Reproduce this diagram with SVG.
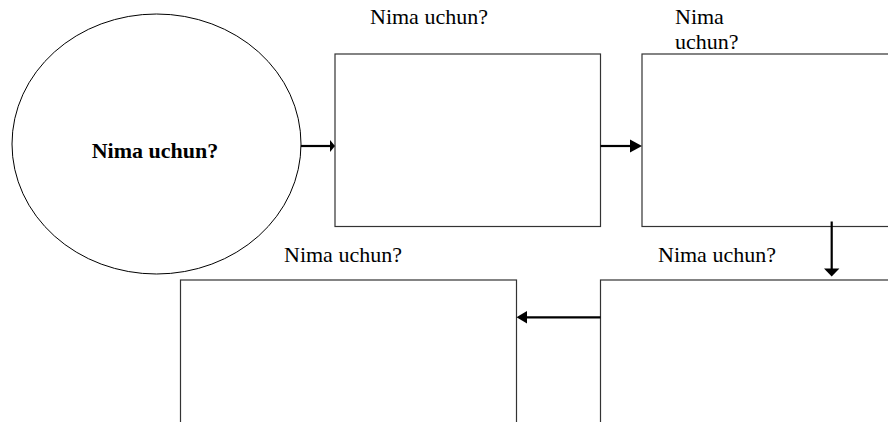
<svg xmlns="http://www.w3.org/2000/svg" width="888" height="422" viewBox="0 0 888 422">
<style>
.box{fill:#fff;stroke:#333;stroke-width:1.2}
text{font-family:'Liberation Serif','Tinos','DejaVu Serif','Times New Roman',serif;font-size:22px;fill:#000}
.bold{font-weight:bold;font-size:22px}
.conn{stroke:#000;stroke-width:2.2;fill:none}
.head{fill:#000}
</style>
<rect width="888" height="422" fill="#fff"/>
<g id="node-ellipse">
<ellipse cx="156.5" cy="144" rx="144.5" ry="130" fill="#fff" stroke="#000" stroke-width="1"/>
<text class="bold" x="155" y="158" text-anchor="middle" font-family="Liberation Serif, serif">Nima uchun?</text>
</g>
<g id="node-box1">
<rect class="box" x="335" y="54" width="265.5" height="172.5"/>
<text x="370" y="24" font-family="Liberation Serif, serif">Nima uchun?</text>
</g>
<g id="node-box2">
<rect class="box" x="642" y="54" width="260" height="172.5"/>
<text x="675" y="24" font-family="Liberation Serif, serif">Nima</text>
<text x="675" y="49" font-family="Liberation Serif, serif">uchun?</text>
</g>
<g id="node-box3">
<rect class="box" x="180.5" y="280" width="336" height="160"/>
<text x="284" y="262" font-family="Liberation Serif, serif">Nima uchun?</text>
</g>
<g id="node-box4">
<rect class="box" x="600.5" y="280" width="300" height="160"/>
<text x="658" y="262" font-family="Liberation Serif, serif">Nima uchun?</text>
</g>
<g id="connectors">
<line class="conn" x1="301" y1="146" x2="330" y2="146"/>
<polygon class="head" points="335,146 330,140 330,152"/>
<line class="conn" x1="600.5" y1="146" x2="631" y2="146"/>
<polygon class="head" points="642,146 630,139.5 630,152.5"/>
<line class="conn" x1="831.7" y1="221.5" x2="831.7" y2="269"/>
<polygon class="head" points="831.7,276.5 824,268.5 839.4,268.5"/>
<line class="conn" x1="600.5" y1="317.3" x2="526" y2="317.3"/>
<polygon class="head" points="516.5,317.3 527,311 527,323.6"/>
</g>
</svg>
